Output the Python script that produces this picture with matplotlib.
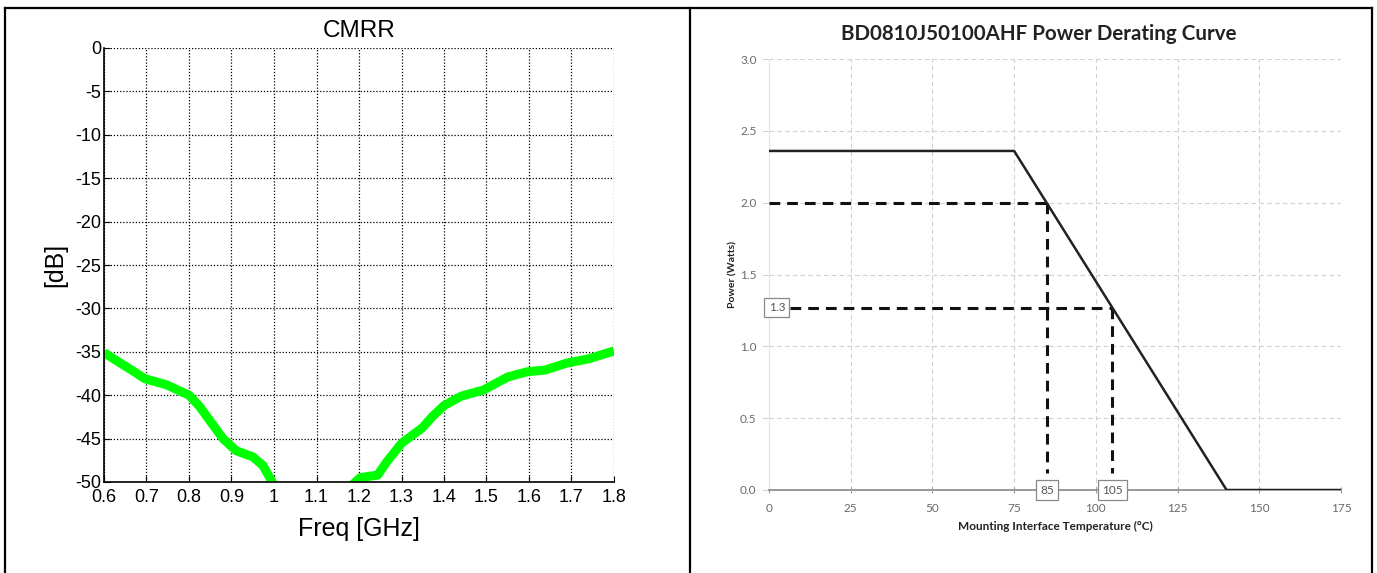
import numpy as np
import matplotlib
matplotlib.use("Agg")
import matplotlib.pyplot as plt
from matplotlib.lines import Line2D

# ── CMRR data ────────────────────────────────────────────
freq_low = [0.6, 0.645, 0.668, 0.696, 0.747, 0.80, 0.825, 0.856, 0.88, 0.911, 0.95, 0.974, 1.005]
cmrr_low = [-35.1, -36.5, -37.2, -38.1, -38.8, -40.0, -41.3, -43.4, -45.0, -46.4, -47.1, -48.1, -50.8]
freq_high = [1.178, 1.203, 1.244, 1.265, 1.301, 1.348, 1.374, 1.40, 1.441, 1.493, 1.55, 1.596,
             1.638, 1.689, 1.741, 1.80]
cmrr_high = [-50.6, -49.5, -49.2, -47.7, -45.5, -43.8, -42.4, -41.2, -40.1, -39.4, -37.9, -37.3,
             -37.1, -36.3, -35.8, -34.9]
freq_ticks = [0.6, 0.7, 0.8, 0.9, 1.0, 1.1, 1.2, 1.3, 1.4, 1.5, 1.6, 1.7, 1.8]
freq_labels = ["0.6", "0.7", "0.8", "0.9", "1", "1.1", "1.2", "1.3", "1.4", "1.5", "1.6", "1.7", "1.8"]
db_ticks = [0, -5, -10, -15, -20, -25, -30, -35, -40, -45, -50]

# ── Power derating data ──────────────────────────────────
temp_curve = [0, 75, 140, 175]
power_curve = [2.36, 2.36, 0.0, 0.0]
mark_temps = [85, 105]
mark_powers = [2.0, 1.27]
mark_label_power = "1.3"
temp_ticks = [0, 25, 50, 75, 100, 125, 150, 175]
power_ticks = [0.0, 0.5, 1.0, 1.5, 2.0, 2.5, 3.0]

W, H = 1377, 573
fig = plt.figure(figsize=(W / 100, H / 100), dpi=100)
fig.patch.set_facecolor("white")

# ── Table borders ─────────────────────────────────────────
def fx(px):
    return px / W

def fy(py):
    return 1 - py / H

for xs, ys in [((5, 1372), (8, 8)), ((5, 5), (8, 573)), ((690, 690), (8, 573)),
               ((1372, 1372), (8, 573))]:
    fig.add_artist(Line2D([fx(xs[0]), fx(xs[1])], [fy(ys[0]), fy(ys[1])],
                          transform=fig.transFigure, color="black", lw=1.6))

# ══════════════════════════════════════════════════════════
#  LEFT: CMRR
# ══════════════════════════════════════════════════════════
ax1 = fig.add_axes([fx(104), fy(482), fx(614 - 104), (482 - 48) / H])
arial = "Liberation Sans"
ax1.plot(freq_low, cmrr_low, color="#00ff00", lw=6.5, solid_capstyle="butt")
ax1.plot(freq_high, cmrr_high, color="#00ff00", lw=6.5, solid_capstyle="butt")
ax1.set_xlim(0.6, 1.8)
ax1.set_ylim(-50, 0)
ax1.set_xticks(freq_ticks)
ax1.set_xticklabels(freq_labels, fontsize=13, family=arial)
ax1.set_yticks(db_ticks)
ax1.set_yticklabels([str(t) for t in db_ticks], fontsize=13, family=arial)
ax1.tick_params(direction="in", length=4, width=0.8, pad=2, colors="black")
ax1.tick_params(axis="x", pad=5)
ax1.grid(True, color="black", linestyle=(0, (1, 1.5)), lw=0.9)
for s in ["top", "right"]:
    ax1.spines[s].set_visible(False)
for s in ["left", "bottom"]:
    ax1.spines[s].set_linewidth(1.2)
ax1.set_title("CMRR", fontsize=17.5, family=arial, pad=8)
ax1.set_xlabel("Freq [GHz]", fontsize=18, family=arial, labelpad=8)
ax1.set_ylabel("[dB]", fontsize=18, family=arial, labelpad=6)

# ══════════════════════════════════════════════════════════
#  RIGHT: Power derating curve
# ══════════════════════════════════════════════════════════
ax2 = fig.add_axes([fx(769), fy(490), fx(1341 - 769), (490 - 59) / H])
font2 = "Lato"
grey = "#6a6a6a"
ax2.set_xlim(0, 175)
ax2.set_ylim(0, 3.0)
ax2.set_xticks(temp_ticks)
ax2.set_xticklabels([str(t) for t in temp_ticks], fontsize=8.5, family=font2, color=grey)
ax2.set_yticks(power_ticks)
ax2.set_yticklabels([f"{t:.1f}" for t in power_ticks], fontsize=8.5, family=font2, color=grey)
ax2.tick_params(axis="x", direction="inout", length=5, width=0.8, color="#999999", pad=7)
ax2.tick_params(axis="y", length=5, width=0.8, color="#d4d4d4", pad=4)
ax2.grid(True, color="#d0d0d0", linestyle=(0, (4, 3)), lw=0.8)
for s in ["top", "right"]:
    ax2.spines[s].set_visible(False)
ax2.spines["left"].set_color("#e6e6e6")
ax2.spines["left"].set_linewidth(0.8)
ax2.spines["bottom"].set_color("#999999")
ax2.spines["bottom"].set_linewidth(1.4)

ax2.plot(temp_curve, power_curve, color="#222222", lw=1.8, zorder=4)

dash = (0, (3.5, 2.3))
for t, p in zip(mark_temps, mark_powers):
    x_start = 0 if p == mark_powers[0] else 6.5
    ax2.plot([x_start, t], [p, p], color="#111111", lw=2.2, linestyle=dash, zorder=3)
    ax2.plot([t, t], [p, 0.12], color="#111111", lw=2.2, linestyle=dash, zorder=3)

box = dict(boxstyle="square,pad=0.35", facecolor="white", edgecolor="#888888", lw=0.9)
for t in mark_temps:
    ax2.text(t, 0, str(t), fontsize=8.5, family=font2, color="#555555",
             ha="center", va="center", bbox=box, zorder=5)
ax2.text(2.4, mark_powers[1], mark_label_power, fontsize=8.5, family=font2, color="#555555",
         ha="center", va="center", bbox=box, zorder=5, clip_on=False)

ax2.set_title("BD0810J50100AHF Power Derating Curve", fontsize=14.8, family=font2,
              fontweight="bold", color="#222222", pad=14, x=(1039 - 769) / (1341 - 769))
ax2.set_xlabel("Mounting Interface Temperature (°C)", fontsize=8.5, family=font2,
               fontweight="bold", color="#222222", labelpad=5)
ax2.set_ylabel("Power (Watts)", fontsize=7.5, family=font2, fontweight="bold",
               color="#222222", labelpad=2)

fig.savefig("out.png", dpi=100, facecolor="white")
